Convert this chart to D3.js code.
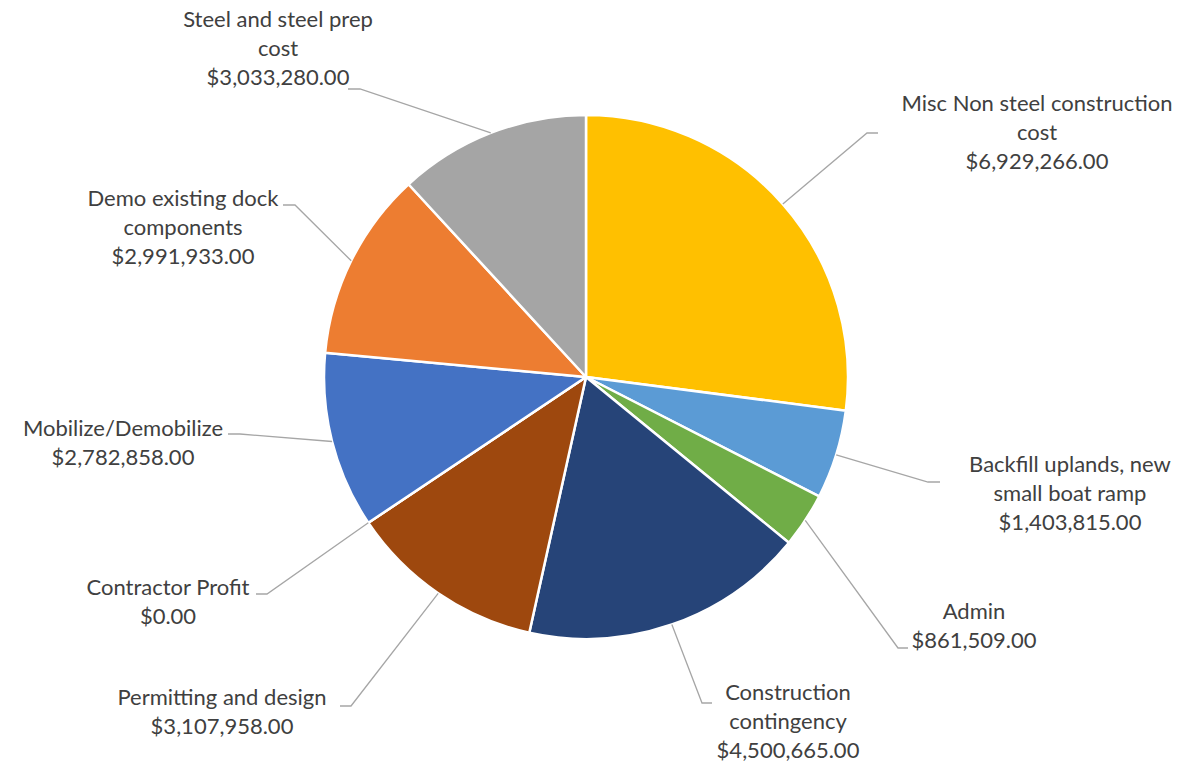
<!DOCTYPE html>
<html>
<head>
<meta charset="utf-8">
<script src="https://cdn.jsdelivr.net/npm/d3@7"></script>
<style>
  html, body { margin: 0; padding: 0; background: #fff; }
  svg { display: block; }
  .lbl { font-family: Lato, "Open Sans", sans-serif; font-size: 22px; fill: #404040; }
  .leader { fill: none; stroke: #a6a6a6; stroke-width: 1.3px; }
</style>
</head>
<body>
<div id="chart"></div>
<script>
// ---------- Data ----------
const CATEGORIES = [
  "Misc Non steel construction cost",
  "Backfill uplands, new small boat ramp",
  "Admin",
  "Construction contingency",
  "Permitting and design",
  "Contractor Profit",
  "Mobilize/Demobilize",
  "Demo existing dock components",
  "Steel and steel prep cost"
];
const VALUES = [6929266, 1403815, 861509, 4500665, 3107958, 0, 2782858, 2991933, 3033280];
const COLORS = ["#ffc000", "#5b9bd5", "#70ad47", "#264478", "#9e480e", "#636363", "#4472c4", "#ed7d31", "#a5a5a5"];

// label text lines as wrapped in the original
const LABEL_LINES = [
  ["Misc Non steel construction", "cost"],
  ["Backfill uplands, new", "small boat ramp"],
  ["Admin"],
  ["Construction", "contingency"],
  ["Permitting and design"],
  ["Contractor Profit"],
  ["Mobilize/Demobilize"],
  ["Demo existing dock", "components"],
  ["Steel and steel prep", "cost"]
];

// ---------- Layout (label placement, separate from data) ----------
const W = 1202, H = 765;
const CX = 586, CY = 377, R = 262;
const LINE_H = 29;
// tx/ty: text centre x and first baseline; ax/ay: leader start; stub: horizontal stub length
const LABEL_POS = [
  { tx: 1037, ty: 111, ax: 878, ay: 133, stub: -11 },
  { tx: 1070, ty: 472, ax: 940, ay: 482, stub: -12 },
  { tx: 974,  ty: 619, ax: 908, ay: 648, stub: -10 },
  { tx: 788,  ty: 700, ax: 712, ay: 703, stub: -10 },
  { tx: 222,  ty: 705, ax: 340, ay: 706, stub: 11 },
  { tx: 168,  ty: 595, ax: 256, ay: 594, stub: 11 },
  { tx: 123,  ty: 436, ax: 228, ay: 434, stub: 12 },
  { tx: 183,  ty: 206, ax: 283, ay: 205, stub: 12 },
  { tx: 278,  ty: 27,  ax: 348, ay: 89,  stub: 12 }
];

const fmt = v => "$" + d3.format(",.2f")(v);

const svg = d3.select("#chart").append("svg")
  .attr("width", W).attr("height", H);

const pie = d3.pie().sort(null).value(d => d);
const arcs = pie(VALUES);

const arc = d3.arc().innerRadius(0).outerRadius(R);
const edge = d3.arc().innerRadius(R).outerRadius(R);

const g = svg.append("g").attr("transform", `translate(${CX},${CY})`);

g.selectAll("path.slice")
  .data(arcs)
  .join("path")
    .attr("class", "slice")
    .attr("d", arc)
    .attr("fill", (d, i) => COLORS[i])
    .attr("stroke", "#fff")
    .attr("stroke-width", 2.5)
    .attr("stroke-linejoin", "round");

// leader lines
const line = d3.line();
svg.append("g").selectAll("path.leader")
  .data(arcs)
  .join("path")
    .attr("class", "leader")
    .attr("d", (d, i) => {
      const p = LABEL_POS[i];
      const [ex, ey] = edge.centroid(d);
      return line([[p.ax, p.ay], [p.ax + p.stub, p.ay], [CX + ex, CY + ey]]);
    });

// labels
const labels = svg.append("g").selectAll("text.lbl")
  .data(arcs)
  .join("text")
    .attr("class", "lbl")
    .attr("text-anchor", "middle")
    .attr("x", (d, i) => LABEL_POS[i].tx)
    .attr("y", (d, i) => LABEL_POS[i].ty);

labels.each(function(d, i) {
  const t = d3.select(this);
  const lines = LABEL_LINES[i].concat([fmt(d.data)]);
  lines.forEach((s, k) => {
    t.append("tspan")
      .attr("x", LABEL_POS[i].tx)
      .attr("dy", k === 0 ? 0 : LINE_H)
      .text(s);
  });
});
</script>
</body>
</html>
